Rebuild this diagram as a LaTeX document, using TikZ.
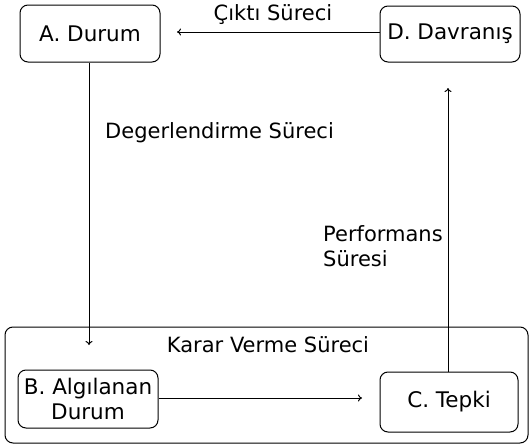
\documentclass[tikz,border=0pt]{standalone}
\usepackage{fontspec}
\setmainfont{DejaVu Sans}
\usetikzlibrary{arrows.meta}
\begin{document}
\begin{tikzpicture}[x=1pt,y=-1pt,
  box/.style={draw,line width=1pt,rounded corners=8pt,inner sep=0pt,align=center,font=\fontsize{21.5}{25}\selectfont},
  lbl/.style={inner sep=0pt,align=left,font=\fontsize{21}{25}\selectfont},
  conn/.style={line width=1pt,-{To[length=4pt,width=7pt]}}]
\useasboundingbox (0,0) rectangle (531,447);
\node[box,minimum width=523pt,minimum height=116pt] (K) at (266.5,385) {};
\node[box,minimum width=140pt,minimum height=57pt] (A) at (90,33.5) {A. Durum};
\node[box,minimum width=140pt,minimum height=56pt] (D) at (450,34) {D. Davranış};
\node[box,minimum width=140pt,minimum height=58pt] (B) at (88,399) {B. Algılanan\\Durum};
\node[box,minimum width=138pt,minimum height=60pt] (C) at (449,402) {C. Tepki};
\node[lbl] (t1) at (273,15) {Çıktı Süreci};
\node[lbl,anchor=west] (t2) at (105,133) {Degerlendirme Süreci};
\node[lbl,anchor=west] (t3) at (323,246) {Performans\\Süresi};
\node[lbl] (t4) at (268,345) {Karar Verme Süreci};
\coordinate (e1) at (177,32);
\coordinate (e2) at (89,345);
\coordinate (e3) at (362,398);
\coordinate (e4) at (448,88);
\draw[conn] (D.west |- e1) -- (e1);
\draw[conn] (A.south -| e2) -- (e2);
\draw[conn] (B.east |- e3) -- (e3);
\draw[conn] (C.north -| e4) -- (e4);
\end{tikzpicture}
\end{document}
